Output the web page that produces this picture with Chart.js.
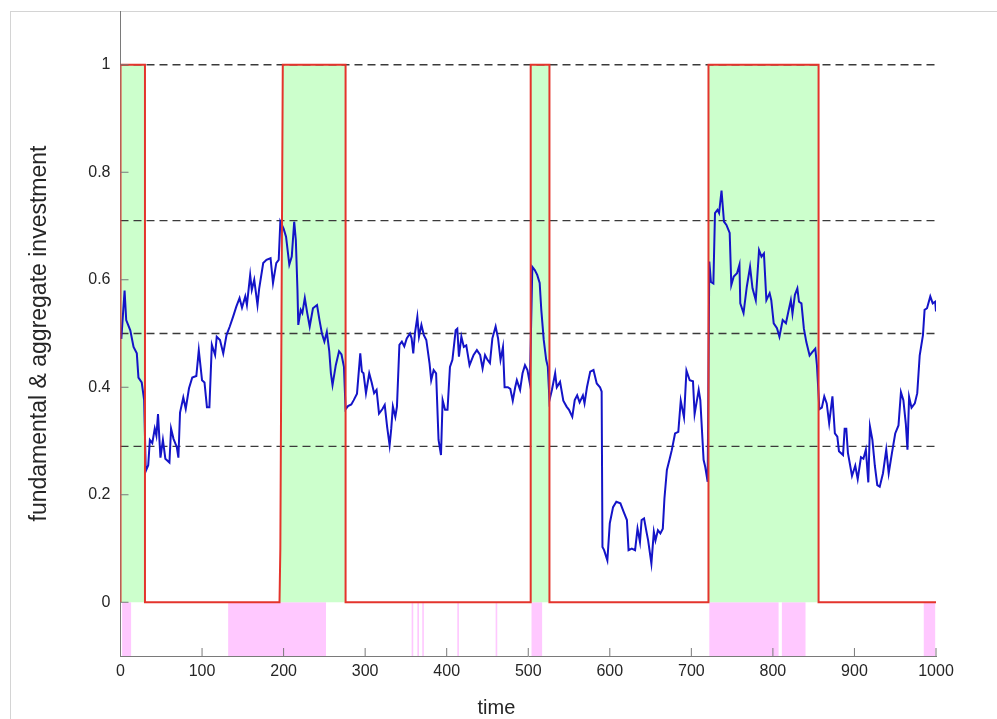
<!DOCTYPE html>
<html>
<head>
<meta charset="utf-8">
<script src="https://cdn.jsdelivr.net/npm/chart.js@4/dist/chart.umd.min.js"></script>
<style>
  html, body { margin: 0; padding: 0; background: #fff; }
  #wrap { position: relative; width: 997px; height: 719px; }
  #frame { position: absolute; left: 10px; top: 11px; right: 0; bottom: 0;
           border-top: 1px solid #d4d4d4; border-left: 1px solid #d4d4d4; }
  #chart { position: absolute; left: 0; top: 0; }
</style>
</head>
<body>
<div id="wrap">
  <div id="frame"></div>
  <canvas id="chart" width="997" height="719"></canvas>
</div>
<script>
// aggregate investment (blue)
const invTime = [1,5,7,12,16,20,22,26,29,31,34,36,39,42,44,46,49,52,55,60,62,65,69,71,73,77,80,84,88,93,96,100,103,106,109,112,116,118,122,126,130,134,138,142,146,149,153,155,159,161,164,168,170,175,179,184,187,191,194,196,200,203,207,210,213,215,217,218,221,223,226,229,232,236,241,244,247,250,253,256,258,260,264,268,271,274,276,279,283,286,290,294,296,298,301,305,308,311,314,317,321,324,327,330,332,334,337,339,342,345,348,351,355,357,359,361,364,366,369,372,375,379,381,384,387,390,393,395,398,401,404,407,411,413,415,418,421,424,428,433,437,441,444,447,450,453,456,460,463,466,469,471,475,478,481,484,486,490,493,496,499,502,505,508,511,514,516,519,522,524,526,529,533,535,539,543,547,550,554,557,560,563,567,569,572,576,580,584,588,590,591,593,597,600,604,608,613,617,621,623,627,631,634,637,639,642,645,647,651,654,656,659,662,665,667,670,673,676,680,684,687,691,694,698,702,704,709,711,715,717,720,722,724,727,729,732,734,737,740,743,747,749,752,756,759,760,764,768,772,775,779,783,786,789,792,796,798,801,805,808,812,816,819,822,824,827,830,832,835,838,841,845,848,852,854,857,860,863,866,869,873,876,879,881,886,888,890,892,897,901,904,908,911,914,917,919,922,925,928,931,935,939,942,946,950,954,957,960,963,965,967,970,974,977,980,984,986,989,993,996,999,1000];
const invValue = [0.49,0.58,0.525,0.506,0.475,0.463,0.418,0.409,0.376,0.244,0.255,0.302,0.296,0.323,0.31,0.35,0.269,0.302,0.267,0.26,0.323,0.304,0.289,0.269,0.353,0.381,0.36,0.398,0.418,0.421,0.469,0.413,0.409,0.363,0.363,0.479,0.46,0.494,0.488,0.463,0.497,0.513,0.531,0.55,0.566,0.548,0.569,0.553,0.609,0.581,0.6,0.553,0.583,0.631,0.637,0.64,0.594,0.631,0.637,0.708,0.695,0.68,0.628,0.643,0.708,0.674,0.581,0.516,0.544,0.538,0.566,0.538,0.513,0.547,0.553,0.525,0.5,0.485,0.503,0.467,0.426,0.404,0.441,0.467,0.461,0.438,0.359,0.365,0.368,0.376,0.388,0.463,0.429,0.426,0.389,0.426,0.409,0.389,0.395,0.351,0.359,0.367,0.326,0.292,0.323,0.364,0.345,0.364,0.479,0.485,0.476,0.491,0.5,0.491,0.463,0.5,0.531,0.494,0.516,0.497,0.488,0.444,0.413,0.432,0.426,0.302,0.274,0.376,0.358,0.358,0.438,0.451,0.506,0.509,0.457,0.494,0.475,0.478,0.441,0.46,0.469,0.46,0.435,0.46,0.451,0.445,0.491,0.513,0.491,0.451,0.475,0.4,0.4,0.397,0.375,0.4,0.413,0.395,0.426,0.441,0.432,0.407,0.624,0.618,0.609,0.594,0.544,0.488,0.451,0.438,0.376,0.395,0.426,0.4,0.41,0.375,0.364,0.358,0.345,0.376,0.385,0.372,0.385,0.37,0.4,0.429,0.432,0.407,0.4,0.392,0.103,0.097,0.078,0.147,0.177,0.187,0.184,0.168,0.153,0.097,0.1,0.097,0.137,0.112,0.153,0.156,0.131,0.115,0.072,0.131,0.115,0.134,0.128,0.137,0.193,0.246,0.264,0.283,0.314,0.317,0.375,0.344,0.431,0.413,0.411,0.35,0.395,0.376,0.265,0.252,0.224,0.634,0.596,0.593,0.724,0.73,0.724,0.766,0.708,0.702,0.687,0.59,0.606,0.612,0.628,0.556,0.538,0.587,0.624,0.584,0.562,0.655,0.643,0.649,0.562,0.575,0.562,0.519,0.51,0.494,0.525,0.519,0.541,0.562,0.537,0.572,0.584,0.559,0.556,0.509,0.484,0.459,0.465,0.472,0.441,0.359,0.362,0.383,0.37,0.333,0.383,0.314,0.308,0.281,0.274,0.323,0.323,0.278,0.235,0.254,0.229,0.27,0.267,0.284,0.223,0.327,0.302,0.254,0.218,0.215,0.24,0.284,0.24,0.278,0.314,0.329,0.391,0.376,0.332,0.284,0.382,0.362,0.37,0.389,0.459,0.497,0.544,0.547,0.569,0.556,0.559,0.541];

// fundamental regime (red step line, green area)
const regimeTime = [0,0,30,30,195,196,199,276,276,503,503,526,526,721,721,856,856,1000];
const regimeValue = [0,1,1,0,0,0.1,1,1,0,0,1,1,0,0,1,1,0,0];

// pink bands below zero
const bandStart = [2,132,357,364,370,413,460,504,722,811,985];
const bandEnd = [13,252,359,366,372,415,462,517,807,840,999];

// dashed reference levels
const levels = [1,0.71,0.5,0.29];

const xTicks = [0,100,200,300,400,500,600,700,800,900,1000];
const yTicks = [0,0.2,0.4,0.6,0.8,1];

const invPoints = invTime.map((t, i) => ({ x: t, y: invValue[i] }));
const regimePoints = regimeTime.map((t, i) => ({ x: t, y: regimeValue[i] }));
const bandPoints = [{ x: 0, y: 0 }];
bandStart.forEach((s, i) => {
  bandPoints.push({ x: s, y: 0 }, { x: s, y: -0.1 }, { x: bandEnd[i], y: -0.1 }, { x: bandEnd[i], y: 0 });
});
bandPoints.push({ x: 1000, y: 0 });

const levelSets = levels.map(v => ({
  data: [{ x: 0, y: v }, { x: 1000, y: v }],
  borderColor: '#3a3a3a',
  borderWidth: 1.3,
  borderDash: [8, 5],
  pointRadius: 0,
  fill: false,
  order: 3
}));

const AXIS = '#7a7a7a';
const TEXT = '#262626';

// MATLAB-style inward ticks and the x label (sits a bit left of centre in the original)
const axisExtras = {
  id: 'axisExtras',
  afterDatasetsDraw(chart) {
    const { ctx, chartArea, scales: { x, y } } = chart;
    ctx.save();
    ctx.strokeStyle = AXIS;
    ctx.lineWidth = 1;
    ctx.beginPath();
    x.ticks.forEach(t => {
      const px = x.getPixelForValue(t.value);
      ctx.moveTo(px, chartArea.bottom);
      ctx.lineTo(px, chartArea.bottom - 8);
    });
    y.ticks.forEach(t => {
      const py = y.getPixelForValue(t.value);
      ctx.moveTo(chartArea.left, py);
      ctx.lineTo(chartArea.left + 8, py);
    });
    ctx.stroke();

    ctx.fillStyle = TEXT;
    ctx.font = '20px "Liberation Sans"';
    ctx.textAlign = 'center';
    ctx.textBaseline = 'middle';
    ctx.fillText('time', x.getPixelForValue(461), x.bottom - 11);
    ctx.restore();
  }
};

new Chart(document.getElementById('chart'), {
  type: 'line',
  data: {
    datasets: [
      {
        data: bandPoints,
        borderWidth: 0,
        borderColor: 'rgba(0,0,0,0)',
        backgroundColor: '#ffc8ff',
        pointRadius: 0,
        fill: 'origin',
        order: 6
      },
      {
        data: regimePoints,
        borderWidth: 0,
        borderColor: 'rgba(0,0,0,0)',
        backgroundColor: '#ccffcc',
        pointRadius: 0,
        fill: 'origin',
        order: 5
      },
      ...levelSets,
      {
        data: invPoints,
        borderColor: '#1414c8',
        borderWidth: 2,
        pointRadius: 0,
        fill: false,
        order: 2
      },
      {
        data: regimePoints,
        borderColor: '#e4342c',
        borderWidth: 2,
        pointRadius: 0,
        fill: false,
        order: 1
      }
    ]
  },
  options: {
    responsive: false,
    animation: false,
    devicePixelRatio: 1,
    layout: { padding: { top: 11, right: 61, left: 0, bottom: 0 } },
    plugins: { legend: { display: false }, tooltip: { enabled: false } },
    elements: { line: { tension: 0 } },
    scales: {
      x: {
        type: 'linear',
        min: 0,
        max: 1000,
        afterFit: s => { s.height = 63; },
        afterBuildTicks: s => { s.ticks = xTicks.map(v => ({ value: v })); },
        grid: { display: false, drawTicks: false },
        border: { display: true, color: AXIS, width: 1 },
        ticks: {
          padding: 6,
          maxRotation: 0,
          color: TEXT,
          font: { family: 'Liberation Sans', size: 16 },
          callback: v => String(v)
        },
        title: { display: false }
      },
      y: {
        type: 'linear',
        min: -0.1,
        max: 1.1,
        afterFit: s => { s.width = 120.5; s.paddingTop = 0; s.paddingBottom = 0; },
        afterBuildTicks: s => { s.ticks = yTicks.map(v => ({ value: v })); },
        grid: { display: false, drawTicks: false },
        border: { display: true, color: AXIS, width: 1 },
        ticks: {
          padding: 10,
          color: TEXT,
          font: { family: 'Liberation Sans', size: 16 },
          callback: v => String(v)
        },
        title: {
          display: true,
          text: 'fundamental & aggregate investment',
          color: TEXT,
          font: { family: 'Liberation Sans', size: 23 },
          padding: { top: 26, bottom: 0 }
        }
      }
    }
  },
  plugins: [axisExtras]
});
</script>
</body>
</html>
